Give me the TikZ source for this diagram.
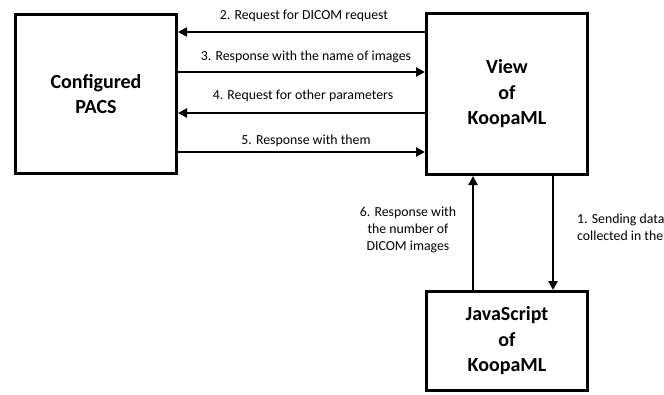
\documentclass[tikz,border=0pt]{standalone}
\usepackage{fontspec}
\setmainfont{Carlito}
\usetikzlibrary{arrows.meta}
\begin{document}
\begin{tikzpicture}[x=1pt, y=-1pt, line join=miter,
	box/.style = {draw, line width=3pt, align=center, inner sep=0pt, font=\fontsize{20}{25.5}\selectfont\bfseries},
	msg/.style = {-{Triangle[length=9pt, width=9pt]}, line width=2.6pt},
	lbl/.style = {font=\fontsize{13.8}{17}\selectfont, inner sep=0pt}]
	\useasboundingbox (0,0) rectangle (664,394);
	\node[box, minimum width=161pt, minimum height=159pt] (pacs) at (96,94) {Configured\\PACS};
	\node[box, minimum width=161pt, minimum height=161pt] (view) at (507,94) {View\\of\\KoopaML};
	\node[box, minimum width=161pt, minimum height=99pt] (js) at (507,341) {JavaScript\\of\\KoopaML};
	
	\node[lbl] (l2) at (304,16) {2. Request for DICOM request};
	\node[lbl] (l3) at (306,57) {3. Response with the name of images};
	\node[lbl] (l4) at (303,96) {4. Request for other parameters};
	\node[lbl] (l5) at (306,141) {5. Response with them};
	\node[lbl, align=center] (l6) at (408,230) {6. Response with\\the number of\\DICOM images};
	\node[lbl, align=left, anchor=west] (l1) at (577,227) {1. Sending data\\collected in the};
	
	\draw[msg] ([yshift=62pt]view.west) -- ([yshift=62pt]pacs.east);
	\draw[msg] ([yshift=22pt]pacs.east) -- ([yshift=22pt]view.west);
	\draw[msg] ([yshift=-19pt]view.west) -- ([yshift=-19pt]pacs.east);
	\draw[msg] ([yshift=-58pt]pacs.east) -- ([yshift=-58pt]view.west);
	\draw[msg] ([xshift=-34pt]js.north) -- ([xshift=-34pt]view.south);
	\draw[msg] ([xshift=46pt]view.south) -- ([xshift=46pt]js.north);
\end{tikzpicture}
\end{document}
